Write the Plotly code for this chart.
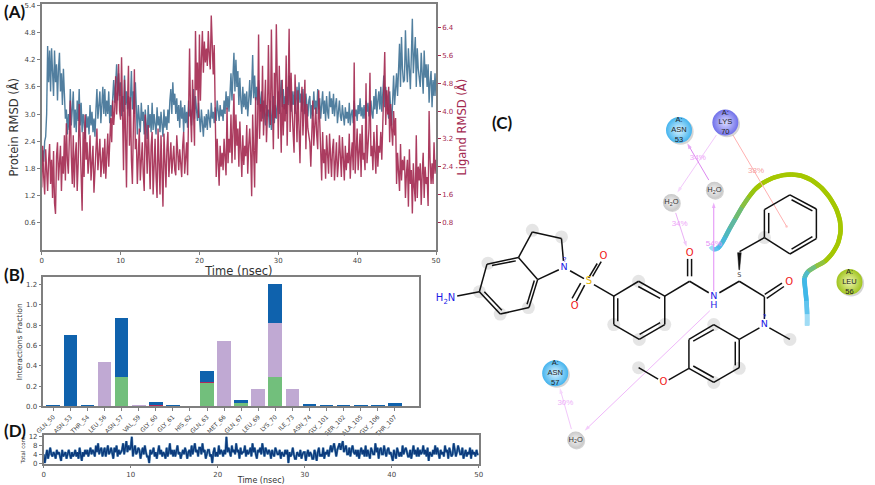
import plotly.graph_objects as go

# ---------- data ----------
time_step = 0.125
protein_rmsd = [
1.85,2.2,1.95,2.4,2.5,3.0,4.5,3.7, 4.4,3.5,4.45,3.9,3.4,4.4,3.7,4.1, 3.3,4.0,4.35,3.5,3.9,3.2,4.0,3.45,
2.9,3.1,2.55,3.0,2.65,3.55,2.75,3.1, 3.5,2.7,3.1,2.6,3.3,2.85,3.55,2.75, 3.25,2.6,3.0,2.8,2.45,3.0,2.7,2.95,
2.55,3.2,2.75,3.05,2.6,2.9,2.5,3.1, 3.55,2.9,3.3,3.5,2.8,3.2,3.6,3.0, 3.55,2.95,3.3,3.0,3.5,2.8,3.2,2.95,
3.3,3.75,3.25,3.6,4.1,3.3,3.9,3.4, 3.7,2.95,3.4,3.05,3.85,3.2,3.5,3.1, 3.4,2.95,3.3,3.95,3.1,3.5,3.0,3.7,
3.1,2.55,3.2,2.75,2.6,3.25,2.85,3.05, 2.55,3.1,2.8,2.45,3.2,2.7,3.0,2.6, 3.25,2.65,3.0,2.8,2.55,3.15,2.75,2.95,
2.6,3.05,2.75,2.5,3.1,2.7,2.95,2.65, 3.1,2.8,3.3,3.55,3.0,3.7,3.2,3.45, 3.0,3.35,2.85,3.2,2.7,3.3,2.9,3.15,
2.6,3.2,2.8,3.05,2.7,3.3,2.95,3.1, 2.75,3.2,3.55,2.9,3.4,3.1,2.85,3.25, 2.95,2.6,3.1,2.75,2.5,2.95,2.7,3.0,
2.65,3.1,2.85,2.7,3.25,2.9,3.05,2.8, 3.15,2.85,3.3,3.0,2.85,3.2,2.95,3.1, 2.85,3.3,3.0,3.5,3.1,3.4,3.05,3.45,
3.9,3.3,3.7,4.35,3.5,4.2,3.6,3.95, 3.2,3.8,3.3,3.0,3.6,3.15,3.45,3.1, 3.5,2.95,3.3,3.75,3.2,3.55,4.3,3.35,
3.85,3.3,3.6,3.2,3.75,3.3,3.05,3.5, 2.9,3.3,3.05,2.75,3.2,2.95,3.1,2.7, 3.3,2.65,3.0,3.4,2.8,3.2,2.9,3.3,
3.5,3.0,3.3,3.75,3.15,3.55,3.1,3.4, 3.0,3.6,3.2,3.85,3.3,3.05,3.5,3.2, 3.5,3.0,3.3,3.6,3.1,3.7,3.25,3.45,
3.05,3.55,3.2,3.0,3.45,3.15,2.95,3.3, 3.4,2.9,3.2,2.95,3.5,3.1,3.3,3.0, 3.55,3.1,3.35,2.9,3.2,3.5,3.0,3.3,
2.85,3.4,3.05,2.9,3.5,3.15,3.35,3.0, 3.45,2.95,3.2,3.35,2.8,3.1,3.3,2.95, 2.85,3.2,2.95,2.75,3.15,2.9,3.05,2.8,
3.25,2.75,3.0,3.1,2.8,3.3,2.95,3.1, 2.85,3.2,3.0,3.35,2.95,3.15,2.9,3.2, 2.9,3.3,3.05,3.25,2.95,3.15,3.3,3.0,
2.9,3.4,3.1,3.55,3.0,3.3,3.5,3.1, 3.6,3.05,3.4,3.85,3.15,3.6,3.3,3.0, 2.9,3.5,3.1,2.75,3.3,3.85,3.2,3.6,
3.9,3.4,4.2,4.55,3.6,4.7,4.0,3.7, 3.75,4.85,4.1,3.7,4.45,3.9,3.55,4.3, 5.1,3.9,4.4,4.7,3.6,4.45,4.0,3.7,
3.6,4.35,3.9,3.45,4.4,3.8,4.1,3.6, 4.1,3.25,3.7,3.95,3.15,3.75,3.4,3.9, 3.4]
ligand_rmsd = [
1.8,3.0,2.1,1.6,2.9,2.4,1.7,2.6, 3.05,1.9,2.6,1.5,2.85,1.35,1.04,2.7, 3.1,2.0,2.6,3.0,1.7,2.7,2.2,3.3,
2.0,3.65,2.6,2.2,3.2,4.3,2.7,1.9, 3.3,1.8,2.7,3.1,1.7,2.5,4.2,3.0, 2.5,1.13,3.4,2.1,3.9,2.6,3.1,2.2,
2.6,3.3,2.0,2.8,3.0,1.65,2.4,3.1, 3.5,2.3,2.9,3.2,2.1,2.6,2.95,2.2, 3.2,2.05,2.7,3.35,2.4,3.0,3.8,3.1,
4.3,3.6,4.0,5.0,3.9,4.6,5.35,4.0, 3.75,5.55,3.4,2.3,4.9,3.1,1.8,4.2, 5.3,3.0,4.4,2.6,1.9,3.6,5.2,2.9,
3.2,1.9,2.8,3.5,2.0,2.6,3.1,2.2, 1.7,3.9,2.6,2.2,3.6,2.4,1.75,3.0, 3.4,1.6,2.7,3.2,2.1,1.5,3.5,2.4,
1.6,3.3,2.5,1.25,3.35,2.2,1.8,2.9, 3.4,2.1,2.8,3.1,2.2,2.7,3.0,2.3, 2.15,3.3,2.6,2.3,2.9,2.45,2.1,3.0,
3.4,2.2,2.8,3.1,2.15,3.5,5.8,3.9, 3.1,4.9,3.6,3.0,6.3,4.6,5.4,3.8, 6.2,4.3,5.5,6.3,5.1,6.0,5.4,5.8,
5.3,6.3,5.6,5.2,6.75,5.6,5.05,5.9, 4.2,2.1,3.2,2.6,1.85,3.0,2.4,2.8, 2.3,3.2,2.6,2.15,4.1,2.5,3.2,2.8,
3.9,2.5,3.4,4.5,2.6,3.9,3.0,3.5, 2.4,3.7,2.9,2.1,3.3,2.45,3.0,2.7, 3.6,2.2,3.0,3.5,2.8,1.55,3.9,3.1,
1.8,4.4,2.5,3.6,6.2,3.2,4.2,3.7, 5.3,3.3,4.2,4.9,3.1,3.9,5.9,4.0, 3.6,6.35,4.3,2.9,5.1,3.8,6.5,4.1,
3.2,5.3,4.0,2.8,4.9,3.3,4.2,3.7, 5.6,3.0,4.5,6.37,3.4,5.1,4.0,3.5, 2.8,5.05,3.7,3.1,4.6,3.5,2.5,4.1,
4.7,3.3,3.9,4.9,2.9,4.2,3.5,3.2, 3.1,2.4,3.6,4.3,3.0,3.7,4.1,3.3, 2.9,4.6,3.9,3.1,2.0,3.4,2.5,2.9,
2.05,3.3,2.6,2.2,3.35,2.4,2.1,2.9, 3.2,2.0,2.7,3.1,2.1,2.5,3.3,2.4, 2.1,3.25,2.7,2.0,3.0,2.3,2.8,2.5,
3.35,2.05,2.7,3.1,2.3,5.4,2.2,2.9, 3.5,2.3,2.9,3.35,2.1,3.6,2.6,2.8, 2.3,4.8,2.5,3.1,3.5,5.1,2.7,3.0,
2.3,3.4,2.7,2.2,3.6,2.4,3.0,2.8, 3.4,2.6,3.6,4.4,5.7,3.6,4.6,3.9, 4.7,3.1,4.2,3.5,3.0,4.0,3.3,3.8,
1.9,2.8,2.2,1.7,3.05,2.0,2.6,2.3, 2.7,1.5,2.2,2.6,1.25,2.9,1.9,2.3, 1.05,2.5,1.8,1.4,3.3,1.5,2.4,2.0,
2.5,1.3,2.2,2.8,1.5,2.4,1.9,2.1, 1.27,4.0,2.6,1.9,2.5,1.9,3.1,2.2, 2.6]
total_contacts = [
4,0,3,6,2,5,7,4, 3,5,4,2,6,4,5,3, 1,6,3,4,5,2,4,6, 4,2,5,3,4,6,3,5, 2,7,4,1,5,3,6,4, 6,3,5,7,4,6,5,3,
8,5,9,4,6,7,3,5, 7,3,6,8,4,5,7,4, 2,7,5,8,3,6,4,5, 6,9,4,7,10,5,8,6, 7,12,3,6,8,4,5,7, 6,2,5,7,4,8,5,3,
3,0,6,4,5,7,3,5, 2,5,8,4,6,3,5,4, 2,7,3,5,9,4,6,3, 6,3,5,8,4,5,2,4, 6,4,7,5,2,5,6,3, 8,4,6,9,5,6,3,7,
7,4,9,5,6,2,4,6, 6,3,4,0,5,7,3,5, 3,8,4,6,5,3,6,4, 12,5,7,4,3,8,5,6, 4,9,5,6,2,7,4,5, 5,8,3,6,4,5,7,3,
9,5,7,4,2,6,5,7, 4,9,6,3,7,5,4,6, 5,2,6,4,3,7,5,4, 4,6,2,5,4,3,6,4, 6,0,5,3,4,7,4,2, 2,5,4,3,6,2,4,5,
5,1,4,6,3,5,4,2, 2,6,4,1,5,7,3,4, 3,7,2,5,4,6,3,5, 8,5,7,9,6,3,6,8, 9,6,8,10,5,7,8,4, 4,7,3,6,8,5,4,6,
3,6,2,5,7,4,6,3, 8,3,6,4,2,7,5,4, 4,9,5,7,2,6,7,4, 4,8,5,3,6,7,4,5, 3,1,6,4,2,7,5,3, 5,3,8,4,6,7,5,3,
3,6,2,5,8,4,6,3, 7,3,6,4,5,8,4,6, 3,7,1,5,4,3,6,4, 8,4,7,5,2,6,4,5, 3,8,5,6,2,7,5,3, 4,9,6,3,5,8,6,4,
4,7,2,5,6,3,5,4, 7,2,6,4,5,3,6,4, 4]
times = [i * time_step for i in range(len(protein_rmsd))]

residues = ["GLN_50","ASN_53","THR_54","LEU_56","ASN_57","VAL_59","GLY_60","GLY_61","HIS_62","GLN_63","MET_66",
            "GLN_67","LEU_69","LYS_70","ILE_73","ASN_74","GLY_101","SER_102","ALA_105","GLY_106","THR_107"]
hbond_frac = [0,0,0,0,.285,0,0,0,0,.235,0,.035,0,.29,0,0,0,0,0,0,0]
ionic_frac = [0,0,0,0,0,0,.01,0,0,.005,0,0,0,.003,0,0,0,0,0,0,0]
hydrophobic_frac = [0,0,0,.44,0,.005,0,0,0,0,.64,0,.17,.525,.17,0,0,0,0,0,0]
water_frac = [.01,.70,.008,0,.59,0,.035,.006,0,.105,0,.03,0,.39,0,.02,.002,.002,.002,.002,.035]

# 2D interaction diagram (C), in its own drawing coordinates
single_bonds = [
 (85,625,152,612),(152,612,175,528),(175,528,270,508),(270,508,328,575),(328,575,302,660),(302,660,215,680),(215,680,152,612),
 (270,508,312,430),(312,430,400,450),(400,450,406,518),(392,545,328,575),(426,548,468,572),(498,590,558,625),
 (558,625,633,580),(633,580,712,625),(712,625,712,712),(712,712,635,757),(635,757,558,712),(558,712,558,625),
 (712,625,787,580),(787,580,845,615),(877,615,937,580),(937,580,1013,627),(1013,627,1013,695),
 (938,490,1013,447),(1013,447,1013,362),(1013,362,1090,317),(1090,317,1170,360),(1170,360,1170,450),(1170,450,1090,497),(1090,497,1013,447),
 (1028,722,1090,757),(998,722,937,757),(937,757,860,712),(860,712,785,757),(785,757,785,845),(785,845,860,888),(860,888,937,843),(937,843,937,757),
 (785,845,724,880),(692,878,633,843)]
inner_bonds = [
 (190,532,262,518),(318,578,296,650),(167,612,220,668),(632,596,698,632),(698,706,636,742),(570,632,570,702),
 (1026,434,1026,372),(1095,332,1158,366),(1158,444,1095,482),(860,727,798,762),(798,838,860,873),(925,836,925,764),
 (520,520,494,565),(508,526,482,570),(470,592,445,640),(458,586,432,632),(781,565,781,512),(793,565,793,512),(1020,632,1072,596),(1014,620,1066,586)]
wedge_x = [932,943,938,936,932]
wedge_y = [493,493,545,545,493]
halo_x = [312,400,178,215,300,558,633,635,1090,860,860,937,633,152,1013,712]
halo_y = [425,445,525,680,660,712,580,757,757,712,888,845,843,612,447,712]
atom_x = [408,483,527,440,787,860,860,1088,1013,708,937,410,1013]
atom_y = [540,580,505,657,495,626,655,583,713,888,562,515,690]
atom_text = ["N","S","O","O","O","N","H","O","N","O","S","?","?"]
atom_color = ["#1a1ae6","#e6b400","#f02020","#f02020","#f02020","#1a1ae6","#1a1ae6","#f02020","#1a1ae6","#f02020","#444444","#1a1ae6","#1a1ae6"]
atom_size = [9.5,10,10,10,10,9.5,9.5,10,9.5,10,6.5,6.5,6.5]
res_x = [755,895,381,1270]
res_y = [120,97,860,582]
res_text = ["A:<br>ASN<br>53","A:<br>LYS<br>70","A:<br>ASN<br>57","A:<br>LEU<br>56"]
res_color = ["#45b4ee","#7070ea","#45b4ee","#a0c41e"]
res_light = ["#d8f2ff","#dcdcff","#d8f2ff","#eef5b0"]
water_x = [732,862,443]
water_y = [340,303,1063]
pct_x = [812,757,860,988,412]
pct_y = [205,407,468,245,950]
pct_text = ["34%","34%","54%","38%","30%"]
pct_color = ["#eea4f8","#eea4f8","#e490f6","#f6a0a0","#eeb0f8"]
# tail x, tail y, head x, head y, colour, head symbol
links = [
 (868,135,750,310,"#f2c8fb","arrow"),(845,272,780,160,"#dd88f0","arrow"),(745,372,778,475,"#eab0f6","arrow"),
 (860,610,860,340,"#e28cf6","arrow"),(848,670,470,1035,"#f0b8fa","arrow"),(430,1030,395,905,"#f2c8fb","arrow"),
 (918,135,1080,413,"#ffb0b0","circle")]
ribbon_x = [850,860,872,884,895,908,925,945,965,985,1010,1040,1070,1095,1125,1155,1185,1210,1230,1241,1243,1235,1218,1195,1168,1145,1134,1136,1140,1142,1142]
ribbon_y = [474,483,480,465,445,420,390,355,325,300,280,265,257,255,259,272,295,325,360,395,430,465,495,520,535,550,570,600,640,680,715]
ribbon_color = ["#9fdcf5","#5cc4ee","#4cbce8","#48b8d8","#50b8bc","#60b8a0","#70bc70","#88c040","#98c410","#a2c600","#a5c700","#a5c700","#a5c700","#a5c700","#a5c700",
 "#a5c700","#a5c700","#a5c700","#a5c700","#a5c700","#a5c700","#a5c700","#a2c608","#90c240","#70be80","#50bcc8","#40b8e8","#40b8e8","#60c4ee","#a0dcf5"]

W, H = 875, 485
def dx(a, b): return [a / W, b / W]
def dy(top, bottom): return [1 - bottom / H, 1 - top / H]

GREY = "#7f7f7f"
TICK = "#444444"
RED = "#a3284f"
FF = "DejaVu Sans"
frame = dict(showline=True, linecolor=GREY, linewidth=1.5, showgrid=False, zeroline=False, ticks="outside",
             ticklen=3, tickwidth=1, tickcolor=GREY)

fig = go.Figure()
fig.add_trace(go.Scatter(x=times, y=protein_rmsd, mode="lines", line=dict(color="#3f7295", width=1.4), opacity=.9, xaxis="x", yaxis="y"))
fig.add_trace(go.Scatter(x=times, y=ligand_rmsd, mode="lines", line=dict(color=RED, width=1.4), opacity=.9, xaxis="x", yaxis="y2"))
for vals, col in [(hbond_frac, "#72bf7c"), (ionic_frac, "#b0285a"), (hydrophobic_frac, "#c0a9d3"), (water_frac, "#0f62ad")]:
    fig.add_trace(go.Bar(x=residues, y=vals, marker=dict(color=col, line=dict(width=0)), width=.8, xaxis="x2", yaxis="y3"))
fig.add_trace(go.Scatter(x=times, y=total_contacts, mode="lines", line=dict(color="#5b8db8", width=2.4), xaxis="x3", yaxis="y4"))
fig.add_trace(go.Scatter(x=times, y=total_contacts, mode="lines", line=dict(color="#0b3a7c", width=1.4), xaxis="x3", yaxis="y4"))

# ---- panel C ----
def ovl(**k): return go.Scatter(xaxis="x4", yaxis="y5", hoverinfo="skip", **k)
def seg(bonds):
    xs, ys = [], []
    for b in bonds:
        xs += [b[0], b[2], None]; ys += [b[1], b[3], None]
    return xs, ys
fig.add_trace(ovl(x=halo_x, y=halo_y, mode="markers", marker=dict(size=13, color="rgba(170,170,170,.3)", line=dict(width=0))))
for i, c in enumerate(ribbon_color):
    fig.add_trace(ovl(x=ribbon_x[i:i+3], y=ribbon_y[i:i+3], mode="lines", line=dict(color=c, width=4.5, shape="spline")))
for l in links:
    fig.add_trace(ovl(x=[l[0], l[2]], y=[l[1], l[3]], mode="lines+markers", line=dict(color=l[4], width=1),
                      marker=dict(symbol=["circle", l[5]], size=[0, 6 if l[5] == "arrow" else 2.5], color=l[4], angleref="previous", line=dict(width=0))))
bx, by = seg(single_bonds + inner_bonds)
fig.add_trace(ovl(x=bx, y=by, mode="lines", line=dict(color="#111111", width=1.5)))
fig.add_trace(ovl(x=wedge_x, y=wedge_y, mode="lines", fill="toself", fillcolor="#111111", line=dict(color="#111111", width=.5)))
fig.add_trace(ovl(x=atom_x, y=atom_y, mode="text", text=atom_text, textfont=dict(family=FF, size=atom_size, color=atom_color)))
fig.add_trace(ovl(x=[50], y=[634], mode="text", text=["H<sub>2</sub>N"], textfont=dict(family=FF, size=10, color="#1a1ae6")))
fig.add_trace(ovl(x=[p + 5 for p in res_x], y=[p + 5 for p in res_y], mode="markers", marker=dict(size=26, color="rgba(150,150,150,.4)", line=dict(width=0))))
fig.add_trace(ovl(x=res_x, y=res_y, mode="markers+text", text=res_text, textposition="middle center",
                  textfont=dict(family="Liberation Sans", size=7.5, color="#222222"),
                  marker=dict(size=26, color=res_color, gradient=dict(type="radial", color=res_light), line=dict(width=0))))
fig.add_trace(ovl(x=[p + 3 for p in water_x], y=[p + 3 for p in water_y], mode="markers", marker=dict(size=17, color="rgba(150,150,150,.4)", line=dict(width=0))))
fig.add_trace(ovl(x=water_x, y=water_y, mode="markers+text", text=["H<sub>2</sub>O"] * 3, textposition="middle center",
                  textfont=dict(family="Liberation Sans", size=7.5, color="#333333"),
                  marker=dict(size=17, color="#c8c8c8", gradient=dict(type="radial", color="#f4f4f4"), line=dict(width=0))))
fig.add_trace(ovl(x=pct_x, y=pct_y, mode="text", text=pct_text, textfont=dict(family="Liberation Sans", size=8, color=pct_color)))

panel_labels = [dict(x=x, y=y, xref="paper", yref="paper", text=t, showarrow=False, xanchor="left", yanchor="middle",
                     font=dict(family="Lato", size=17, color="#111111", weight="bold"))
                for t, x, y in [("(A)", 0, 1 - 10 / H), ("(B)", 0, 1 - 276 / H), ("(C)", 491 / W, 1 - 122 / H), ("(D)", 0, 1 - 435 / H)]]

fig.update_layout(
    width=W, height=H, margin=dict(l=0, r=0, t=0, b=0), paper_bgcolor="white", plot_bgcolor="rgba(0,0,0,0)",
    showlegend=False, barmode="stack", font=dict(family=FF, color=TICK, size=7),
    annotations=panel_labels,
    xaxis=dict(frame, domain=dx(40, 437), range=[0, 50], anchor="y", dtick=10, mirror=True, tickfont=dict(size=7),
               title=dict(text="Time (nsec)", font=dict(size=11.5, color="#333333"), standoff=3)),
    yaxis=dict(frame, domain=dy(2.4, 251.7), range=[0, 5.42], anchor="x", tickvals=[.6, 1.2, 1.8, 2.4, 3.0, 3.6, 4.2, 4.8, 5.4],
               ticktext=["0.6", "1.2", "1.8", "2.4", "3.0", "3.6", "4.2", "4.8", "5.4"], tickfont=dict(size=7),
               title=dict(text="Protein RMSD (Å)", font=dict(size=11.5, color="#333333"), standoff=3)),
    yaxis2=dict(frame, domain=dy(2.4, 251.7), range=[0, 7.07], anchor="x", overlaying="y", side="right",
                tickvals=[.8, 1.6, 2.4, 3.2, 4.0, 4.8, 5.6, 6.4], ticktext=["0.8", "1.6", "2.4", "3.2", "4.0", "4.8", "5.6", "6.4"],
                tickfont=dict(size=7, color=RED), tickcolor=RED,
                title=dict(text="Ligand RMSD (Å)", font=dict(size=11.5, color=RED), standoff=1)),
    xaxis2=dict(frame, domain=dx(41.7, 420), type="category", categoryorder="array", categoryarray=residues, range=[-.58, 21.42],
                anchor="y3", mirror=True, tickangle=-45, tickfont=dict(size=6), dtick=1, automargin=False),
    yaxis3=dict(frame, domain=dy(279.3, 410.3), range=[0, 1.272], anchor="x2", mirror=True, dtick=.2, tickformat=".1f", tickfont=dict(size=7),
                title=dict(text="Interactions Fraction", font=dict(size=7.5, color="#333333"), standoff=2)),
    xaxis3=dict(frame, domain=dx(42, 480), range=[0, 50], anchor="y4", mirror=True, dtick=10, tickfont=dict(size=7),
                title=dict(text="Time (nsec)", font=dict(size=8, color="#333333"), standoff=1)),
    yaxis4=dict(frame, domain=dy(439.3, 468.3), range=[-.2, 12.8], anchor="x3", mirror=True, tickvals=[0, 4, 8, 12], tickfont=dict(size=7),
                title=dict(text="Total cont.", font=dict(size=5.5, color="#333333"), standoff=3)),
    xaxis4=dict(domain=[0, 1], range=[-1290, 1335], visible=False, anchor="y5", fixedrange=True),
    yaxis5=dict(domain=[0, 1], range=[1185, -270], visible=False, anchor="x4", fixedrange=True),
)
fig.write_html("out.html", config=dict(displayModeBar=False),
               post_script="document.body.style.margin='0';document.body.style.overflow='hidden';")
